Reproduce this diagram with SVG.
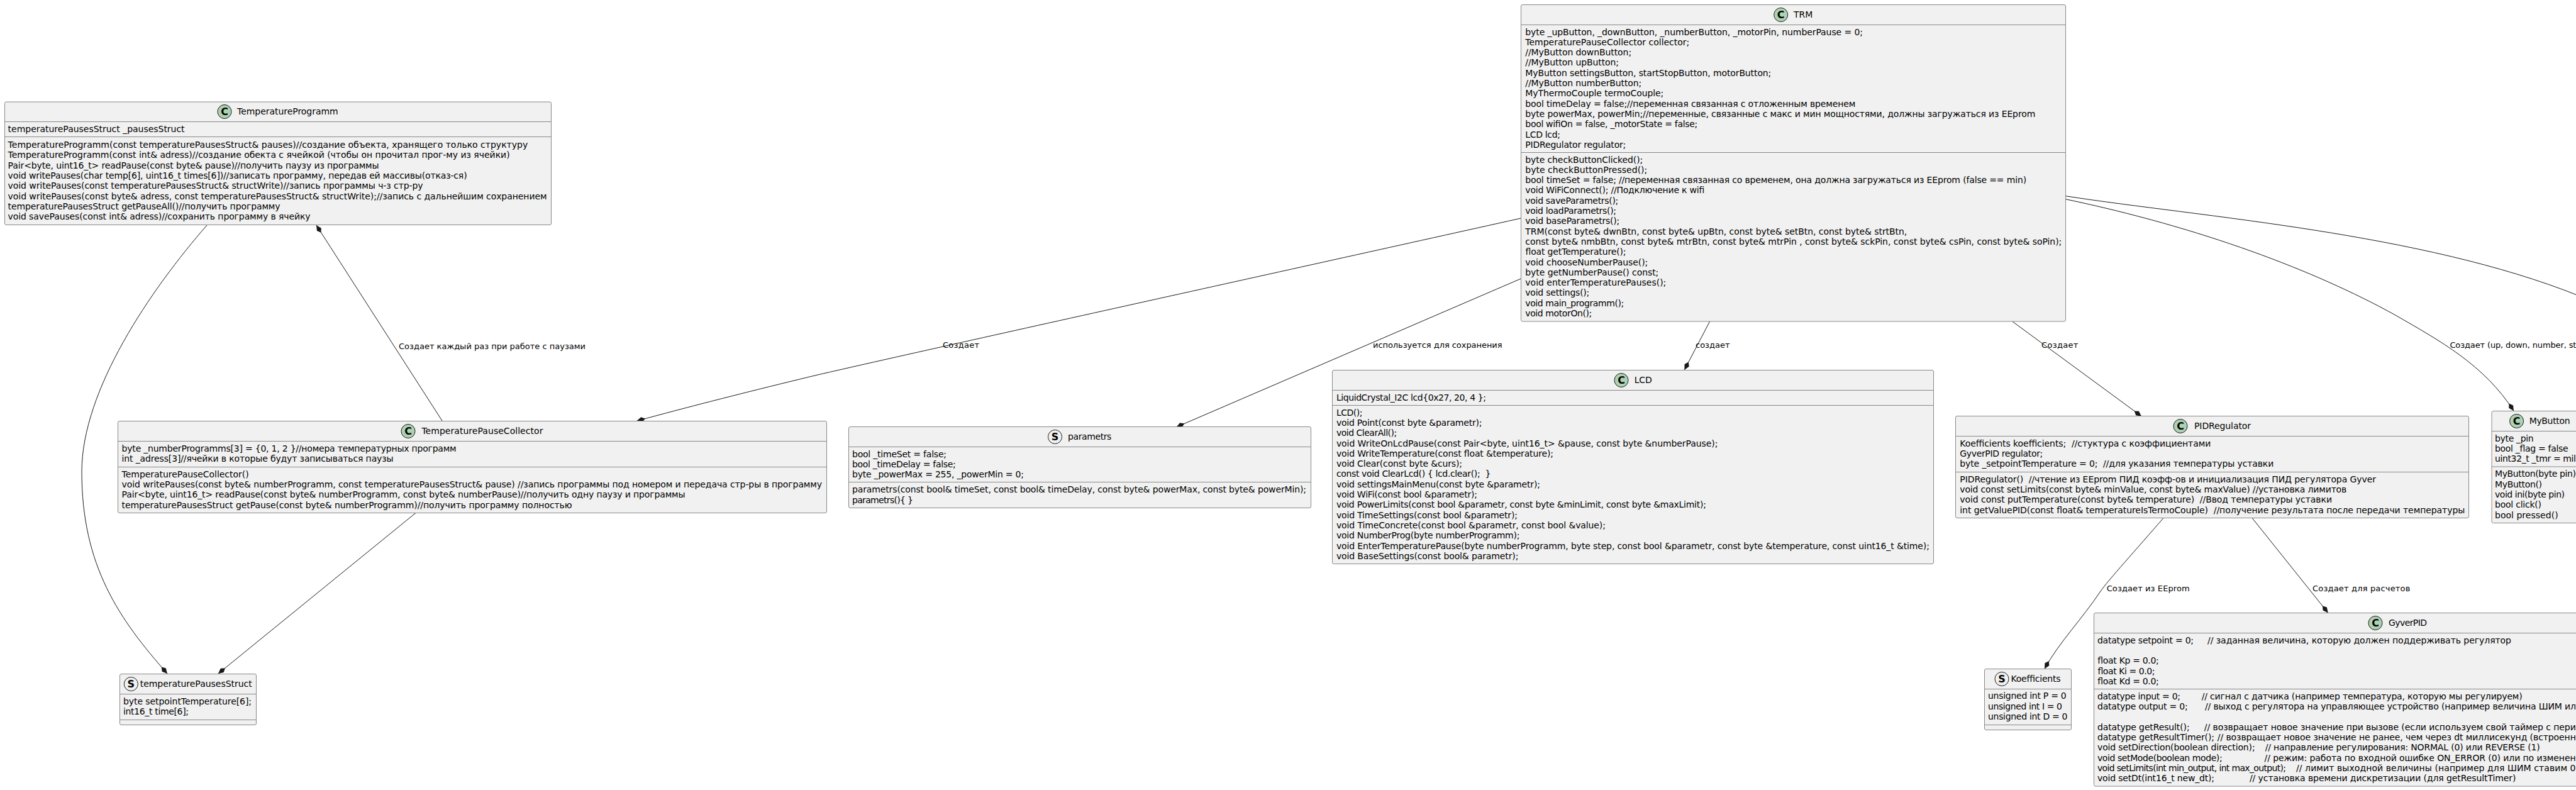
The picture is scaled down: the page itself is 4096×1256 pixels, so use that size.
<svg xmlns="http://www.w3.org/2000/svg" width="4096" height="1256" viewBox="0 0 4096 1256">
<style>
text{font-family:"DejaVu Sans",sans-serif;fill:#000;white-space:pre}
.t{font-size:14px}
.m{font-size:14px}
.l{font-size:13px}
.b{fill:#F1F1F1;stroke:#888888;stroke-width:1}
.s{stroke:#888888;stroke-width:1;fill:none}
.c{stroke:#181818;stroke-width:1}
.cc{fill:#ADD1B2}
.cs{fill:#F1F1F1}
.g{font-size:16px;font-weight:bold;text-anchor:middle}
.e{fill:none;stroke:#181818;stroke-width:1}
</style>
<defs>
<marker id="dia" markerUnits="userSpaceOnUse" markerWidth="16" markerHeight="10" refX="14" refY="5" orient="auto" viewBox="0 0 16 10"><path d="M0,5 L6,1 L14,5 L6,9 Z" fill="#181818"/></marker>
</defs>
<rect width="4096" height="1256" fill="#FFFFFF"/>
<g id="connectors">
<path class="e" marker-end="url(#dia)" d="M329.5,357.5 C240,460 130,620 130,750 C130,900 190,985 266,1071"/>
<path class="e" marker-end="url(#dia)" d="M703,669 L503,358"/>
<path class="e" marker-end="url(#dia)" d="M661,815.5 L347,1071"/>
<path class="e" marker-end="url(#dia)" d="M2418.4,347 C2000,440 1500,550 1300,596 C1200,620 1090,648 1012.5,669.3"/>
<path class="e" marker-end="url(#dia)" d="M2418.4,443 L1870.4,679"/>
<path class="e" marker-end="url(#dia)" d="M2718.6,511 L2678.4,588"/>
<path class="e" marker-end="url(#dia)" d="M3199.7,511 L3405,661.7"/>
<path class="e" marker-end="url(#dia)" d="M3284.6,316.7 C3500,362 3680,430 3807,500 C3880,542 3950,580 3997,653.3"/>
<path class="e" d="M3284.6,311.7 C3500,345 3850,370 4100,470"/>
<path class="e" marker-end="url(#dia)" d="M3440,823.5 C3400,870 3350,925 3340,940 C3310,985 3275,1020 3251,1063.3"/>
<path class="e" marker-end="url(#dia)" d="M3581,823.5 L3701.7,974.3"/>
<text class="l" x="634" y="555">Создает каждый раз при работе с паузами</text>
<text class="l" x="1499" y="553" textLength="58">Создает</text>
<text class="l" x="2183" y="553" textLength="205.6">используется для сохранения</text>
<text class="l" x="2696" y="553">создает</text>
<text class="l" x="3246" y="553" textLength="58.4">Создает</text>
<text class="l" x="3895.4" y="553" textLength="201">Создает (up, down, number, st</text>
<text class="l" x="3349.7" y="940" textLength="132">Создает из EEprom</text>
<text class="l" x="3677" y="940" textLength="155.4">Создает для расчетов</text>
</g>
<g id="TemperatureProgramm">
<rect class="b" x="7.5" y="162" width="869" height="195.5" rx="2.5"/>
<line class="s" x1="7.5" y1="193.5" x2="876.5" y2="193.5"/><line class="s" x1="7.5" y1="217.5" x2="876.5" y2="217.5"/>
<circle class="c cc" cx="357" cy="177.5" r="11"/><text class="g" x="357" y="183.3">C</text>
<text class="t" x="377" y="182" textLength="160.7">TemperatureProgramm</text>
<text class="m" x="12.6" y="210" textLength="281">temperaturePausesStruct _pausesStruct</text>
<text class="m" x="12.6" y="235" textLength="826.6">TemperatureProgramm(const temperaturePausesStruct&amp; pauses)//создание объекта, хранящего только структуру</text>
<text class="m" x="12.6" y="251.3" textLength="798">TemperatureProgramm(const int&amp; adress)//создание обекта с ячейкой (чтобы он прочитал прог-му из ячейки)</text>
<text class="m" x="12.6" y="267.6" textLength="590">Pair&lt;byte, uint16_t&gt; readPause(const byte&amp; pause)//получить паузу из программы</text>
<text class="m" x="12.6" y="283.9" textLength="730">void writePauses(char temp[6], uint16_t times[6])//записать программу, передав ей массивы(отказ-ся)</text>
<text class="m" x="12.6" y="300.2" textLength="660">void writePauses(const temperaturePausesStruct&amp; structWrite)//запись программы ч-з стр-ру</text>
<text class="m" x="12.6" y="316.5" textLength="857">void writePauses(const byte&amp; adress, const temperaturePausesStruct&amp; structWrite);//запись с дальнейшим сохранением</text>
<text class="m" x="12.6" y="332.8" textLength="433">temperaturePausesStruct getPauseAll()//получить программу</text>
<text class="m" x="12.6" y="349.1" textLength="481">void savePauses(const int&amp; adress)//сохранить программу в ячейку</text>
</g>
<g id="TRM">
<rect class="b" x="2418.5" y="7.5" width="866" height="503.5" rx="2.5"/>
<line class="s" x1="2418.5" y1="39.5" x2="3284.5" y2="39.5"/><line class="s" x1="2418.5" y1="242.5" x2="3284.5" y2="242.5"/>
<circle class="c cc" cx="2831.7" cy="23.5" r="11"/><text class="g" x="2831.7" y="29.3">C</text>
<text class="t" x="2852" y="28">TRM</text>
<text class="m" x="2425.3" y="55.5" textLength="536.7">byte _upButton, _downButton, _numberButton, _motorPin, numberPause = 0;</text>
<text class="m" x="2425.3" y="71.8" textLength="261">TemperaturePauseCollector collector;</text>
<text class="m" x="2425.3" y="88.1" textLength="168.8">//MyButton downButton;</text>
<text class="m" x="2425.3" y="104.4" textLength="148.7">//MyButton upButton;</text>
<text class="m" x="2425.3" y="120.7" textLength="391">MyButton settingsButton, startStopButton, motorButton;</text>
<text class="m" x="2425.3" y="137" textLength="185">//MyButton numberButton;</text>
<text class="m" x="2425.3" y="153.3" textLength="220">MyThermoCouple termoCouple;</text>
<text class="m" x="2425.3" y="169.6" textLength="525">bool timeDelay = false;//переменная связанная с отложенным временем</text>
<text class="m" x="2425.3" y="185.9" textLength="811">byte powerMax, powerMin;//переменные, связанные с макс и мин мощностями, должны загружаться из EEprom</text>
<text class="m" x="2425.3" y="202.2" textLength="274">bool wifiOn = false, _motorState = false;</text>
<text class="m" x="2425.3" y="218.5" textLength="55.7">LCD lcd;</text>
<text class="m" x="2425.3" y="234.8" textLength="160">PIDRegulator regulator;</text>
<text class="m" x="2425.3" y="258.5" textLength="187">byte checkButtonClicked();</text>
<text class="m" x="2425.3" y="274.8" textLength="194">byte checkButtonPressed();</text>
<text class="m" x="2425.3" y="291.1" textLength="796.8">bool timeSet = false; //переменная связанная со временем, она должна загружаться из EEprom (false == min)</text>
<text class="m" x="2425.3" y="307.4" textLength="285">void WiFiConnect(); //Подключение к wifi</text>
<text class="m" x="2425.3" y="323.7" textLength="148">void saveParametrs();</text>
<text class="m" x="2425.3" y="340" textLength="144.7">void loadParametrs();</text>
<text class="m" x="2425.3" y="356.3" textLength="150">void baseParametrs();</text>
<text class="m" x="2425.3" y="372.6" textLength="607">TRM(const byte&amp; dwnBtn, const byte&amp; upBtn, const byte&amp; setBtn, const byte&amp; strtBtn,</text>
<text class="m" x="2425.3" y="388.9" textLength="853">const byte&amp; nmbBtn, const byte&amp; mtrBtn, const byte&amp; mtrPin , const byte&amp; sckPin, const byte&amp; csPin, const byte&amp; soPin);</text>
<text class="m" x="2425.3" y="405.2" textLength="160">float getTemperature();</text>
<text class="m" x="2425.3" y="421.5" textLength="195">void chooseNumberPause();</text>
<text class="m" x="2425.3" y="437.8" textLength="212">byte getNumberPause() const;</text>
<text class="m" x="2425.3" y="454.1" textLength="224">void enterTemperaturePauses();</text>
<text class="m" x="2425.3" y="470.4" textLength="102">void settings();</text>
<text class="m" x="2425.3" y="486.7" textLength="157">void main_programm();</text>
<text class="m" x="2425.3" y="503" textLength="106">void motorOn();</text>
</g>
<g id="TemperaturePauseCollector">
<rect class="b" x="187.5" y="669.5" width="1127" height="146" rx="2.5"/>
<line class="s" x1="187.5" y1="701.5" x2="1314.5" y2="701.5"/><line class="s" x1="187.5" y1="742.5" x2="1314.5" y2="742.5"/>
<circle class="c cc" cx="649" cy="685.5" r="11"/><text class="g" x="649" y="691.3">C</text>
<text class="t" x="670.4" y="690" textLength="193">TemperaturePauseCollector</text>
<text class="m" x="193.6" y="717.6" textLength="532">byte _numberProgramms[3] = {0, 1, 2 }//номера температурных программ</text>
<text class="m" x="193.6" y="733.9" textLength="432">int _adress[3]//ячейки в которые будут записываться паузы</text>
<text class="m" x="193.6" y="758.6" textLength="202">TemperaturePauseCollector()</text>
<text class="m" x="193.6" y="774.9" textLength="1113.5">void writePauses(const byte&amp; numberProgramm, const temperaturePausesStruct&amp; pause) //запись программы под номером и передача стр-ры в программу</text>
<text class="m" x="193.6" y="791.2" textLength="896">Pair&lt;byte, uint16_t&gt; readPause(const byte&amp; numberProgramm, const byte&amp; numberPause)//получить одну паузу и программы</text>
<text class="m" x="193.6" y="807.5" textLength="716">temperaturePausesStruct getPause(const byte&amp; numberProgramm)//получить программу полностью</text>
</g>
<g id="temperaturePausesStruct">
<rect class="b" x="190.5" y="1071.5" width="217" height="81" rx="2.5"/>
<line class="s" x1="190.5" y1="1103.5" x2="407.5" y2="1103.5"/><line class="s" x1="190.5" y1="1144.5" x2="407.5" y2="1144.5"/>
<circle class="c cs" cx="208.3" cy="1087.5" r="11"/><text class="g" x="208.3" y="1093.3">S</text>
<text class="t" x="222.7" y="1092.3" textLength="178">temperaturePausesStruct</text>
<text class="m" x="196" y="1120" textLength="204">byte setpointTemperature[6];</text>
<text class="m" x="196" y="1136.3" textLength="104">int16_t time[6];</text>
</g>
<g id="parametrs">
<rect class="b" x="1349.5" y="678.5" width="735" height="129" rx="2.5"/>
<line class="s" x1="1349.5" y1="710.5" x2="2084.5" y2="710.5"/><line class="s" x1="1349.5" y1="766.5" x2="2084.5" y2="766.5"/>
<circle class="c cs" cx="1677.5" cy="694.5" r="11"/><text class="g" x="1677.5" y="700.3">S</text>
<text class="t" x="1698" y="699" textLength="69.4">parametrs</text>
<text class="m" x="1355" y="726.7" textLength="150">bool _timeSet = false;</text>
<text class="m" x="1355" y="743" textLength="164.8">bool _timeDelay = false;</text>
<text class="m" x="1355" y="759.3" textLength="273">byte _powerMax = 255, _powerMin = 0;</text>
<text class="m" x="1355" y="783.3" textLength="722">parametrs(const bool&amp; timeSet, const bool&amp; timeDelay, const byte&amp; powerMax, const byte&amp; powerMin);</text>
<text class="m" x="1355" y="799.6" textLength="97">parametrs(){ }</text>
</g>
<g id="LCD">
<rect class="b" x="2118.5" y="588.5" width="956" height="308" rx="2.5"/>
<line class="s" x1="2118.5" y1="620.5" x2="3074.5" y2="620.5"/><line class="s" x1="2118.5" y1="644.5" x2="3074.5" y2="644.5"/>
<circle class="c cc" cx="2578" cy="604.5" r="11"/><text class="g" x="2578" y="610.3">C</text>
<text class="t" x="2598.7" y="609" textLength="28">LCD</text>
<text class="m" x="2124.9" y="636.7" textLength="238">LiquidCrystal_I2C lcd{0x27, 20, 4 };</text>
<text class="m" x="2124.9" y="660.6" textLength="41.5">LCD();</text>
<text class="m" x="2124.9" y="676.9" textLength="231.5">void Point(const byte &amp;parametr);</text>
<text class="m" x="2124.9" y="693.2" textLength="96.3">void ClearAll();</text>
<text class="m" x="2124.9" y="709.5" textLength="606.5">void WriteOnLcdPause(const Pair&lt;byte, uint16_t&gt; &amp;pause, const byte &amp;numberPause);</text>
<text class="m" x="2124.9" y="725.8" textLength="345">void WriteTemperature(const float &amp;temperature);</text>
<text class="m" x="2124.9" y="742.1" textLength="200">void Clear(const byte &amp;curs);</text>
<text class="m" x="2124.9" y="758.4" textLength="245.5">const void ClearLcd() { lcd.clear();  }</text>
<text class="m" x="2124.9" y="774.7" textLength="324">void settingsMainMenu(const byte &amp;parametr);</text>
<text class="m" x="2124.9" y="791" textLength="224">void WiFi(const bool &amp;parametr);</text>
<text class="m" x="2124.9" y="807.3" textLength="588">void PowerLimits(const bool &amp;parametr, const byte &amp;minLimit, const byte &amp;maxLimit);</text>
<text class="m" x="2124.9" y="823.6" textLength="288">void TimeSettings(const bool &amp;parametr);</text>
<text class="m" x="2124.9" y="839.9" textLength="428">void TimeConcrete(const bool &amp;parametr, const bool &amp;value);</text>
<text class="m" x="2124.9" y="856.2" textLength="291.5">void NumberProg(byte numberProgramm);</text>
<text class="m" x="2124.9" y="872.5" textLength="943">void EnterTemperaturePause(byte numberProgramm, byte step, const bool &amp;parametr, const byte &amp;temperature, const uint16_t &amp;time);</text>
<text class="m" x="2124.9" y="888.8" textLength="289.5">void BaseSettings(const bool&amp; parametr);</text>
</g>
<g id="PIDRegulator">
<rect class="b" x="3109.5" y="661.5" width="816" height="162" rx="2.5"/>
<line class="s" x1="3109.5" y1="693.5" x2="3925.5" y2="693.5"/><line class="s" x1="3109.5" y1="750.5" x2="3925.5" y2="750.5"/>
<circle class="c cc" cx="3467" cy="677.5" r="11"/><text class="g" x="3467" y="683.3">C</text>
<text class="t" x="3489" y="682" textLength="90">PIDRegulator</text>
<text class="m" x="3116.3" y="709.7" textLength="399">Koefficients koefficients;  //стуктура с коэффициентами</text>
<text class="m" x="3116.3" y="726" textLength="132">GyverPID regulator;</text>
<text class="m" x="3116.3" y="742.3" textLength="499">byte _setpointTemperature = 0;  //для указания температуры уставки</text>
<text class="m" x="3116.3" y="766.6" textLength="661.7">PIDRegulator()  //чтение из EEprom ПИД коэфф-ов и инициализация ПИД регулятора Gyver</text>
<text class="m" x="3116.3" y="782.9" textLength="615">void const setLimits(const byte&amp; minValue, const byte&amp; maxValue) //установка лимитов</text>
<text class="m" x="3116.3" y="799.2" textLength="591.7">void const putTemperature(const byte&amp; temperature)  //Ввод температуры уставки</text>
<text class="m" x="3116.3" y="815.5" textLength="803">int getValuePID(const float&amp; temperatureIsTermoCouple)  //получение результата после передачи температуры</text>
</g>
<g id="MyButton">
<rect class="b" x="3962" y="653.5" width="160" height="178" rx="2.5"/>
<line class="s" x1="3962" y1="685.5" x2="4122" y2="685.5"/><line class="s" x1="3962" y1="742" x2="4122" y2="742"/>
<circle class="c cc" cx="4001.6" cy="669.5" r="11"/><text class="g" x="4001.6" y="675.3">C</text>
<text class="t" x="4021.7" y="674" textLength="64.8">MyButton</text>
<text class="m" x="3967" y="701.7" textLength="61.6">byte _pin</text>
<text class="m" x="3967" y="718" textLength="116.7">bool _flag = false</text>
<text class="m" x="3967" y="734.3" textLength="129">uint32_t _tmr = mil</text>
<text class="m" x="3967" y="758.3" textLength="129">MyButton(byte pin)</text>
<text class="m" x="3967" y="774.6" textLength="75">MyButton()</text>
<text class="m" x="3967" y="790.9" textLength="111">void ini(byte pin)</text>
<text class="m" x="3967" y="807.2" textLength="74">bool click()</text>
<text class="m" x="3967" y="823.5" textLength="100.6">bool pressed()</text>
</g>
<g id="Koefficients">
<rect class="b" x="3155.5" y="1063.5" width="138" height="97" rx="2.5"/>
<line class="s" x1="3155.5" y1="1095.5" x2="3293.5" y2="1095.5"/><line class="s" x1="3155.5" y1="1152.5" x2="3293.5" y2="1152.5"/>
<circle class="c cs" cx="3183" cy="1079.5" r="11"/><text class="g" x="3183" y="1085.3">S</text>
<text class="t" x="3197.5" y="1084" textLength="79">Koefficients</text>
<text class="m" x="3161" y="1111.3" textLength="124.7">unsigned int P = 0</text>
<text class="m" x="3161" y="1127.6" textLength="118">unsigned int I = 0</text>
<text class="m" x="3161" y="1143.9" textLength="126.5">unsigned int D = 0</text>
</g>
<g id="GyverPID">
<rect class="b" x="3329.5" y="974.5" width="965" height="275.5" rx="2.5"/>
<line class="s" x1="3329.5" y1="1006.5" x2="4294.5" y2="1006.5"/><line class="s" x1="3329.5" y1="1095.5" x2="4294.5" y2="1095.5"/>
<circle class="c cc" cx="3777" cy="990.5" r="11"/><text class="g" x="3777" y="996.3">C</text>
<text class="t" x="3798" y="995" textLength="61">GyverPID</text>
<text class="m" x="3335" y="1022.7" textLength="153">datatype setpoint = 0;</text>
<text class="m" x="3510" y="1022.7" textLength="483">// заданная величина, которую должен поддерживать регулятор</text>
<text class="m" x="3335" y="1055.3" textLength="97.5">float Kp = 0.0;</text>
<text class="m" x="3335" y="1071.6" textLength="91">float Ki = 0.0;</text>
<text class="m" x="3335" y="1087.9" textLength="97.5">float Kd = 0.0;</text>
<text class="m" x="3335" y="1111.7" textLength="132">datatype input = 0;</text>
<text class="m" x="3500.7" y="1111.7" textLength="510">// сигнал с датчика (например температура, которую мы регулируем)</text>
<text class="m" x="3335" y="1128" textLength="143.7">datatype output = 0;</text>
<text class="m" x="3506" y="1128" textLength="590">// выход с регулятора на управляющее устройство (например величина ШИМ ил</text>
<text class="m" x="3335" y="1160.6" textLength="146.6">datatype getResult();</text>
<text class="m" x="3504.8" y="1160.6" textLength="591">// возвращает новое значение при вызове (если используем свой таймер с пери</text>
<text class="m" x="3335" y="1176.9" textLength="186">datatype getResultTimer();</text>
<text class="m" x="3525.8" y="1176.9" textLength="570">// возвращает новое значение не ранее, чем через dt миллисекунд (встроенн</text>
<text class="m" x="3335" y="1193.2" textLength="250.6">void setDirection(boolean direction);</text>
<text class="m" x="3601.7" y="1193.2" textLength="437">// направление регулирования: NORMAL (0) или REVERSE (1)</text>
<text class="m" x="3335" y="1209.5" textLength="198.6">void setMode(boolean mode);</text>
<text class="m" x="3600.6" y="1209.5" textLength="495">// режим: работа по входной ошибке ON_ERROR (0) или по изменен</text>
<text class="m" x="3335" y="1225.8" textLength="300">void setLimits(int min_output, int max_output);</text>
<text class="m" x="3651" y="1225.8" textLength="444.5">// лимит выходной величины (например для ШИМ ставим 0</text>
<text class="m" x="3335" y="1242.1" textLength="186">void setDt(int16_t new_dt);</text>
<text class="m" x="3577" y="1242.1" textLength="423.5">// установка времени дискретизации (для getResultTimer)</text>
</g>
</svg>
